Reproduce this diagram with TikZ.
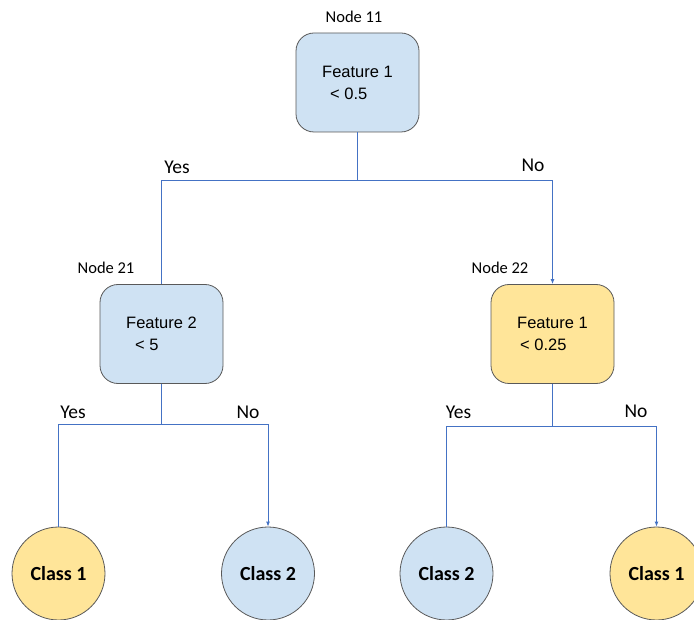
\documentclass[tikz,border=0pt]{standalone}
\usepackage{fontspec}
\setmainfont{Liberation Sans}
\newfontfamily\carlitofont{Carlito}
\usetikzlibrary{arrows.meta}
\definecolor{boxblue}{HTML}{CFE2F3}
\definecolor{boxyellow}{HTML}{FFE599}
\definecolor{edge}{HTML}{595959}
\definecolor{link}{HTML}{4472C4}
\tikzset{
  decision/.style={draw=edge, line width=0.8pt, rounded corners=18pt, minimum width=123pt, minimum height=99pt, align=left, font=\fontsize{16.5}{22}\selectfont, inner sep=0pt},
  leaf/.style={draw=edge, line width=0.8pt, circle, minimum size=93pt, inner sep=0pt, font=\carlitofont\bfseries\fontsize{20}{24}\selectfont},
  tag/.style={font=\carlitofont\fontsize{16.5}{20}\selectfont, inner sep=0pt},
  ans/.style={font=\carlitofont\fontsize{19.5}{23}\selectfont, inner sep=0pt},
  link/.style={draw=link, line width=0.9pt},
  arr/.style={link, -{Latex[length=5pt,width=4pt]}}
}
\begin{document}
\begin{tikzpicture}[x=1pt,y=-1pt]
\useasboundingbox (0,0) rectangle (694,620);
% decision nodes
\node[decision, fill=boxblue] (n11) at (357.5,82.5) {Feature 1\\\hspace{8pt}< 0.5};
\node[decision, fill=boxblue] (n21) at (161.5,334) {Feature 2\\\hspace{9pt}< 5};
\node[decision, fill=boxyellow] (n22) at (552.5,334) {Feature 1\\\hspace{3pt}< 0.25};
% leaves
\node[leaf, fill=boxyellow] (c1) at (58.5,573.5) {Class 1};
\node[leaf, fill=boxblue] (c2) at (268,573.5) {Class 2};
\node[leaf, fill=boxblue] (c3) at (446.5,573.5) {Class 2};
\node[leaf, fill=boxyellow] (c4) at (656.5,573.5) {Class 1};
% tags
\node[tag] (t11) at (354,17) {Node 11};
\node[tag] (t21) at (106,268) {Node 21};
\node[tag] (t22) at (500,268) {Node 22};
% answers
\node[ans] (y1) at (177,167) {Yes};
\node[ans] (no1) at (533,165) {No};
\node[ans] (y2) at (73,412) {Yes};
\node[ans] (no2) at (248,412) {No};
\node[ans] (y3) at (458.5,412) {Yes};
\node[ans] (no3) at (636,411) {No};
% junctions
\coordinate (j1) at (357.5,180);
\coordinate (j2) at (161.5,424);
\coordinate (j3) at (552.5,426);
% connectors
\draw[link] (n11.south) -- (j1);
\draw[link] (j1) -| (n21.north);
\draw[arr] (j1) -| (n22.north);
\draw[link] (n21.south) -- (j2);
\draw[link] (j2) -| (c1.north);
\draw[arr] (j2) -| (c2.north);
\draw[link] (n22.south) -- (j3);
\draw[link] (j3) -| (c3.north);
\draw[arr] (j3) -| (c4.north);
\end{tikzpicture}
\end{document}
